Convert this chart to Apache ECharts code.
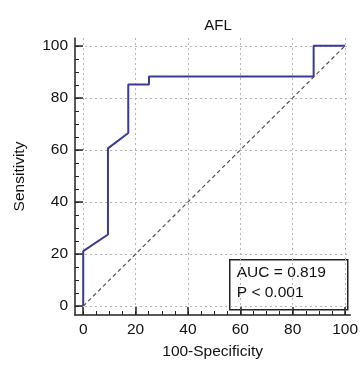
<!DOCTYPE html>
<html>
<head>
<meta charset="utf-8">
<script src="https://cdn.jsdelivr.net/npm/echarts@6/dist/echarts.min.js"></script>
<style>
  html, body { margin: 0; padding: 0; background: #fff; }
  #chart { width: 361px; height: 365px; }
</style>
</head>
<body>
<div id="chart"></div>
<script>
// ROC curve, 100-Specificity vs Sensitivity
var rocX = [0, 0, 9.45, 9.45, 17.2, 17.2, 25.1, 25.1, 88.0, 88.0, 100];
var rocY = [0, 21.1, 27.5, 60.6, 66.5, 85.1, 85.1, 88.2, 88.2, 100, 100];
var diagX = [0, 100];
var diagY = [0, 100];
var majorTicks = [0, 20, 40, 60, 80, 100];
var minorTicks = [0, 5, 10, 15, 20, 25, 30, 35, 40, 45, 50, 55, 60, 65, 70, 75, 80, 85, 90, 95, 100];
var aucText = ['AUC = 0.819', 'P < 0.001'];

var font = 'Liberation Sans, Arial, sans-serif';
var chart = echarts.init(document.getElementById('chart'));

function mainAxis(name, min, max, isY) {
    return {
        type: 'value',
        position: isY ? 'left' : 'bottom',
        min: min,
        max: max,
        name: name,
        nameLocation: 'middle',
        nameGap: isY ? 47 : 29,
        nameTextStyle: { color: '#111', fontSize: 15.5, fontFamily: font },
        axisLine: { show: true, onZero: false, lineStyle: { color: '#222', width: 1.5 } },
        axisTick: { show: true, inside: true, length: 8, customValues: majorTicks, lineStyle: { color: '#222', width: 1.5 } },
        axisLabel: { show: true, customValues: majorTicks, margin: 7, color: '#111', fontSize: 15.5, fontFamily: font },
        splitLine: { show: true, lineStyle: { color: '#b4b4b4', type: [2, 3], width: 1 } }
    };
}
function minorAxis(min, max, isY) {
    return {
        type: 'value',
        position: isY ? 'left' : 'bottom',
        min: min,
        max: max,
        axisLine: { show: false, onZero: false },
        axisTick: { show: true, inside: true, length: 4, customValues: minorTicks, lineStyle: { color: '#222', width: 1 } },
        axisLabel: { show: false },
        splitLine: { show: false }
    };
}

var xMin = -3.14, xMax = 102.0, yMin = -3.41, yMax = 103.0;

chart.setOption({
    backgroundColor: '#fff',
    animation: false,
    title: {
        text: 'AFL',
        left: 213,
        top: 13,
        textAlign: 'center',
        textStyle: { color: '#111', fontSize: 15, fontWeight: 'normal', fontFamily: font }
    },
    grid: { left: 75, right: 8, top: 38, bottom: 46 },
    xAxis: [mainAxis('100-Specificity', xMin, xMax, false), minorAxis(xMin, xMax, false)],
    yAxis: [mainAxis('Sensitivity', yMin, yMax, true), minorAxis(yMin, yMax, true)],
    series: [
        {
            type: 'line',
            data: diagX.map(function (v, i) { return [v, diagY[i]]; }),
            symbol: 'none',
            lineStyle: { color: '#5e4a5a', width: 1.2, type: [4, 3] },
            z: 2
        },
        {
            type: 'line',
            data: rocX.map(function (v, i) { return [v, rocY[i]]; }),
            symbol: 'none',
            lineStyle: { color: '#3a3a96', width: 2 },
            z: 3
        }
    ],
    graphic: [{
        type: 'group',
        left: 229,
        top: 259,
        children: [
            { type: 'rect', shape: { x: 0, y: 0, width: 118, height: 50 }, style: { fill: '#fff', stroke: '#222', lineWidth: 1.5 } },
            { type: 'text', x: 7, y: 13, style: { text: aucText[0], fill: '#111', font: '15.5px ' + font, verticalAlign: 'middle' } },
            { type: 'text', x: 7, y: 33, style: { text: aucText[1], fill: '#111', font: '15.5px ' + font, verticalAlign: 'middle' } }
        ]
    }]
});
</script>
</body>
</html>
